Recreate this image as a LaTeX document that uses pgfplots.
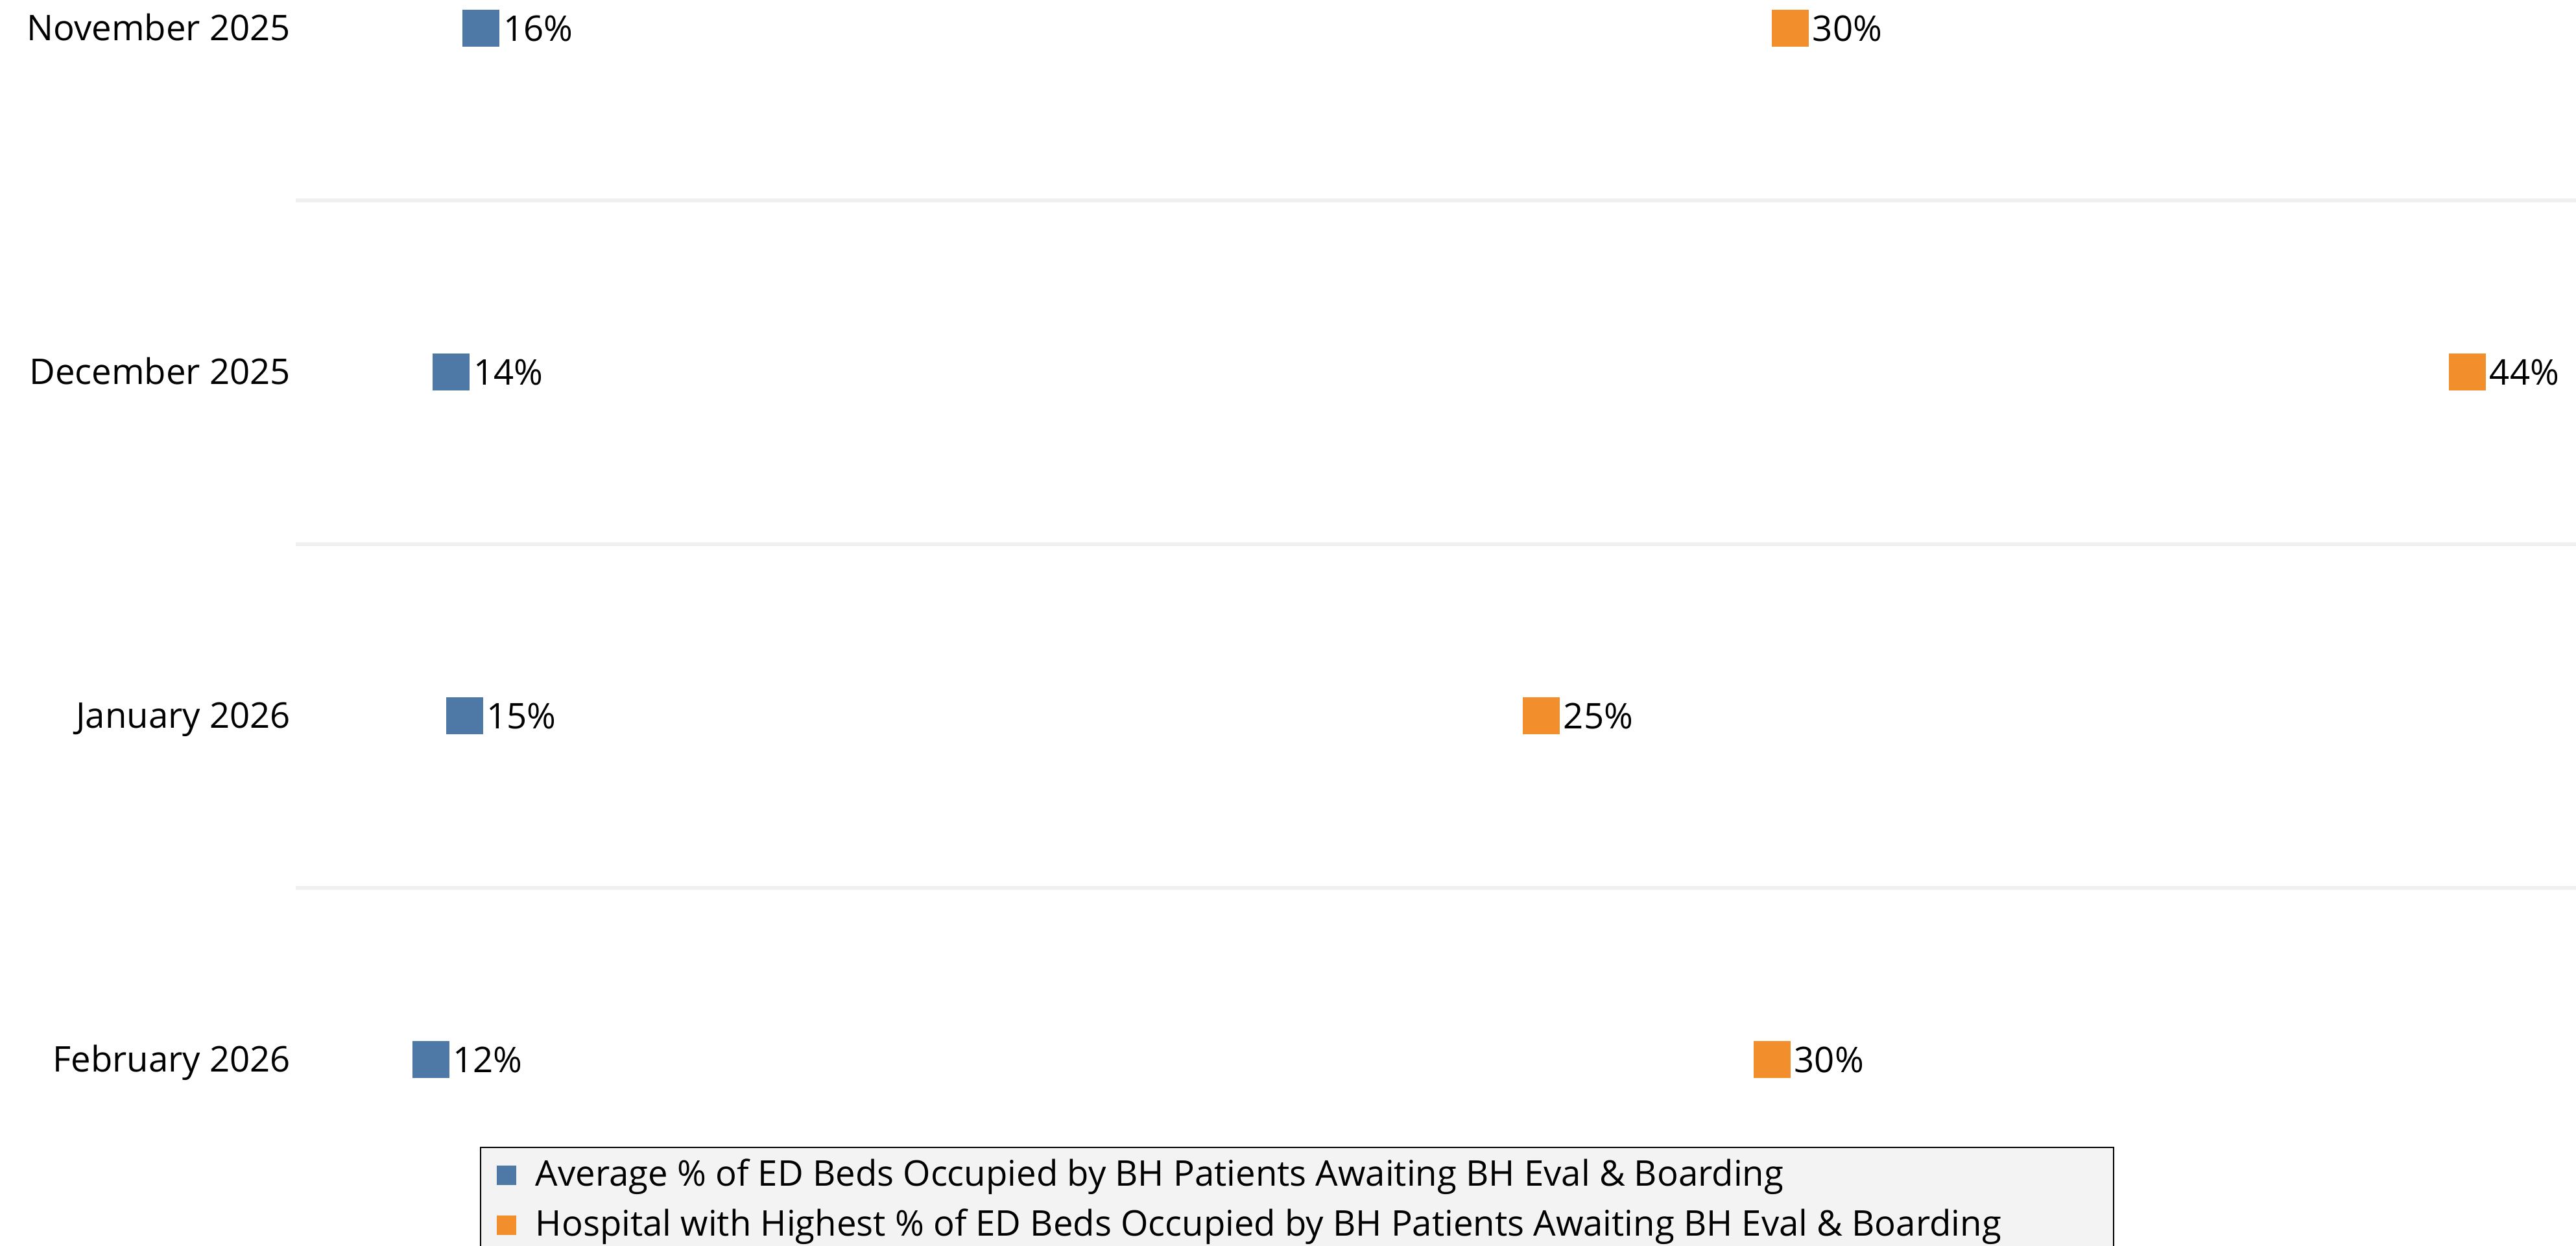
\documentclass[border=0pt]{standalone}
\usepackage{pgfplots}
\pgfplotsset{compat=1.18}
\usepackage{fontspec}
\setmainfont{Open Sans}
\definecolor{tblue}{RGB}{78,121,167}
\definecolor{torange}{RGB}{242,142,43}
\definecolor{sepgray}{RGB}{240,240,240}
\definecolor{leggray}{RGB}{243,243,243}
\newcommand{\lbl}{\fontsize{10.9pt}{12.8pt}\selectfont}
\pgfplotsset{
  base/.style={scale only axis, width=703.2pt, height=424pt,
    at={(91.2pt,4.4pt)}, anchor=south west,
    ymin=-0.5, ymax=3.5, xmin=0, clip=false},
  lab/.style={nodes near coords style={anchor=base west, inner sep=0pt,
    xshift=6.9pt, yshift=-3.9pt, font=\lbl, text=black}},
}
\begin{document}
\begin{tikzpicture}
\path[use as bounding box] (0,0) rectangle (794.4pt,384.2pt);
\clip (0,0) rectangle (794.4pt,384.2pt);
\fill[leggray] (148.2pt,-5pt) rectangle (651.8pt,30.4pt);
\draw[black, line width=0.5pt] (148.2pt,-5pt) -- (148.2pt,30.4pt) -- (651.8pt,30.4pt) -- (651.8pt,-5pt);

\begin{axis}[base, lab, xmax=200.9,
  xtick=\empty, ytick={0,1,2,3},
  yticklabels={February 2026,January 2026,December 2025,November 2025},
  minor ytick={0.5,1.5,2.5}, yminorgrids=true,
  minor grid style={draw=sepgray, line width=1.2pt},
  major tick length=0pt, minor tick length=0pt,
  axis line style={draw=none},
  yticklabel style={anchor=base east, inner sep=0pt, xshift=-1.4pt, yshift=-3.8pt, font=\lbl},
]
\addplot[color=tblue, only marks, mark=square*, mark size=5.6pt,
  mark options={fill=tblue, draw=tblue, line width=0pt},
  point meta=explicit symbolic, nodes near coords]
  coordinates {(16.34,3) [16\%] (13.71,2) [14\%] (14.86,1) [15\%] (11.89,0) [12\%]};
\end{axis}

\begin{axis}[base, lab, xmax=46.14, hide axis,
  legend style={at={(0.08788,0.0533)}, anchor=north west, draw=none, fill=none,
    font=\lbl, row sep=5.6pt, column sep=6pt, inner sep=0pt, nodes={inner sep=0pt}},
  legend cell align=left,
]
\addlegendimage{legend image code/.code={\fill[tblue] (-2.8pt,-2.8pt) rectangle (2.8pt,2.8pt);}}
\addlegendentry{Average \% of ED Beds Occupied by BH Patients Awaiting BH Eval \& Boarding}
\addplot[color=torange, only marks, mark=square*, mark size=5.6pt,
  mark options={fill=torange, draw=torange, line width=0pt},
  point meta=explicit symbolic, nodes near coords,
  legend image code/.code={\fill[torange] (-2.8pt,-2.8pt) rectangle (2.8pt,2.8pt);}]
  coordinates {(30.24,3) [30\%] (43.94,2) [44\%] (25.20,1) [25\%] (29.87,0) [30\%]};
\addlegendentry{Hospital with Highest \% of ED Beds Occupied by BH Patients Awaiting BH Eval \& Boarding}
\end{axis}
\end{tikzpicture}
\end{document}
